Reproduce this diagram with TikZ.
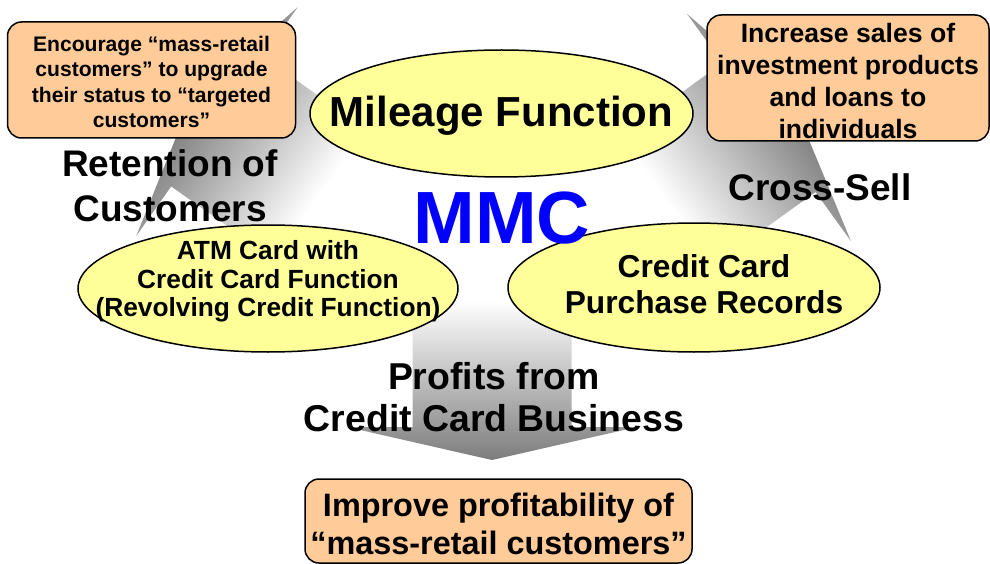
\documentclass[tikz,border=0pt]{standalone}
\usepackage{fontspec}
\setmainfont{Liberation Sans}
\usetikzlibrary{shapes.geometric}
\definecolor{peach}{RGB}{255,204,153}
\definecolor{paleyellow}{RGB}{255,255,153}
\definecolor{flowgray}{RGB}{125,125,125}
\definecolor{mmcblue}{RGB}{0,0,255}
\begin{document}
\begin{tikzpicture}[x=1pt,y=-1pt,
  note/.style={draw=black, line width=1.5pt, fill=peach, rounded corners=14pt,
    inner sep=0pt},
  bubble/.style={ellipse, draw=black, line width=1.5pt, fill=paleyellow, inner sep=0pt},
  flowtext/.style={align=center, inner sep=0pt},
  flowarrow/.style={top color=white, bottom color=flowgray, draw=none}
]
\useasboundingbox (0,0) rectangle (990,564);

% broad shaded arrow: shaft from the tail, wide flat head pointing down
\newcommand\broadarrow{%
  \shade[flowarrow]
    (79.5,-126) -- (79.5,0) -- (140,0) -- (0,33) -- (-140,0)
    -- (-79.5,0) -- (-79.5,-126) -- cycle;}

% left: towards the upper-left box
\begin{scope}[transform canvas={shift={(217,121.5)}, rotate=234.8}]
  \broadarrow
\end{scope}
% right: towards the upper-right box
\begin{scope}[transform canvas={shift={(769,127.5)}, rotate=125.8}]
  \broadarrow
\end{scope}
% bottom: down to the profitability box
\begin{scope}[shift={(492,427)}]
  \shade[flowarrow]
    (79.5,-126) -- (79.5,0) -- (145,0) -- (0,33) -- (-145,0)
    -- (-79.5,0) -- (-79.5,-126) -- cycle;
\end{scope}

% --- arrow captions ---
\node[flowtext, font=\fontsize{37}{45}\selectfont\bfseries] (retention)
  at (170,186) {Retention of\\Customers};
\node[flowtext, font=\fontsize{37}{45}\selectfont\bfseries] (crosssell)
  at (820,187) {Cross-Sell};
\node[flowtext, font=\fontsize{37.4}{42}\selectfont\bfseries] (profits)
  at (494,397) {Profits from\\Credit Card Business};

% --- ellipses ---
\node[bubble, minimum width=383pt, minimum height=127pt] (mileage) at (501.5,113.5) {};
\node[flowtext, font=\fontsize{42}{48}\selectfont\bfseries] (mileagetext)
  at (501.5,116) {Mileage Function};

\node[bubble, minimum width=380pt, minimum height=127pt] (atm) at (268,288.5) {};
\node[flowtext, font=\fontsize{26.3}{28.5}\selectfont\bfseries] (atmtext)
  at (268,281.5) {ATM Card with\\Credit Card Function\\(Revolving Credit Function)};

\node[bubble, minimum width=372pt, minimum height=129pt] (credit) at (694,287.5) {};
\node[flowtext, font=\fontsize{31.7}{36}\selectfont\bfseries] (credittext)
  at (704,284.5) {Credit Card\\Purchase Records};

% --- goal boxes ---
\node[note, minimum width=288pt, minimum height=116pt] (encourage) at (151.5,80) {};
\node[flowtext, font=\fontsize{21.1}{25.6}\selectfont\bfseries] (encouragetext)
  at (151.5,82)
  {Encourage “mass-retail\\customers” to upgrade\\their status to “targeted\\customers”};
\node[note, minimum width=282pt, minimum height=126pt] (increase) at (848,78) {};
\node[flowtext, font=\fontsize{26.6}{31.7}\selectfont\bfseries] (increasetext)
  at (848,81)
  {Increase sales of\\investment products\\and loans to\\individuals};
\node[note, minimum width=387pt, minimum height=84pt] (improve) at (498.5,521) {};
\node[flowtext, font=\fontsize{32.4}{38}\selectfont\bfseries] (improvetext)
  at (498.5,524)
  {Improve profitability of\\“mass-retail customers”};

% --- centre title ---
\node[flowtext, text=mmcblue, font=\fontsize{74}{80}\selectfont\bfseries] (mmc)
  at (502,218) {MMC};
\end{tikzpicture}
\end{document}
